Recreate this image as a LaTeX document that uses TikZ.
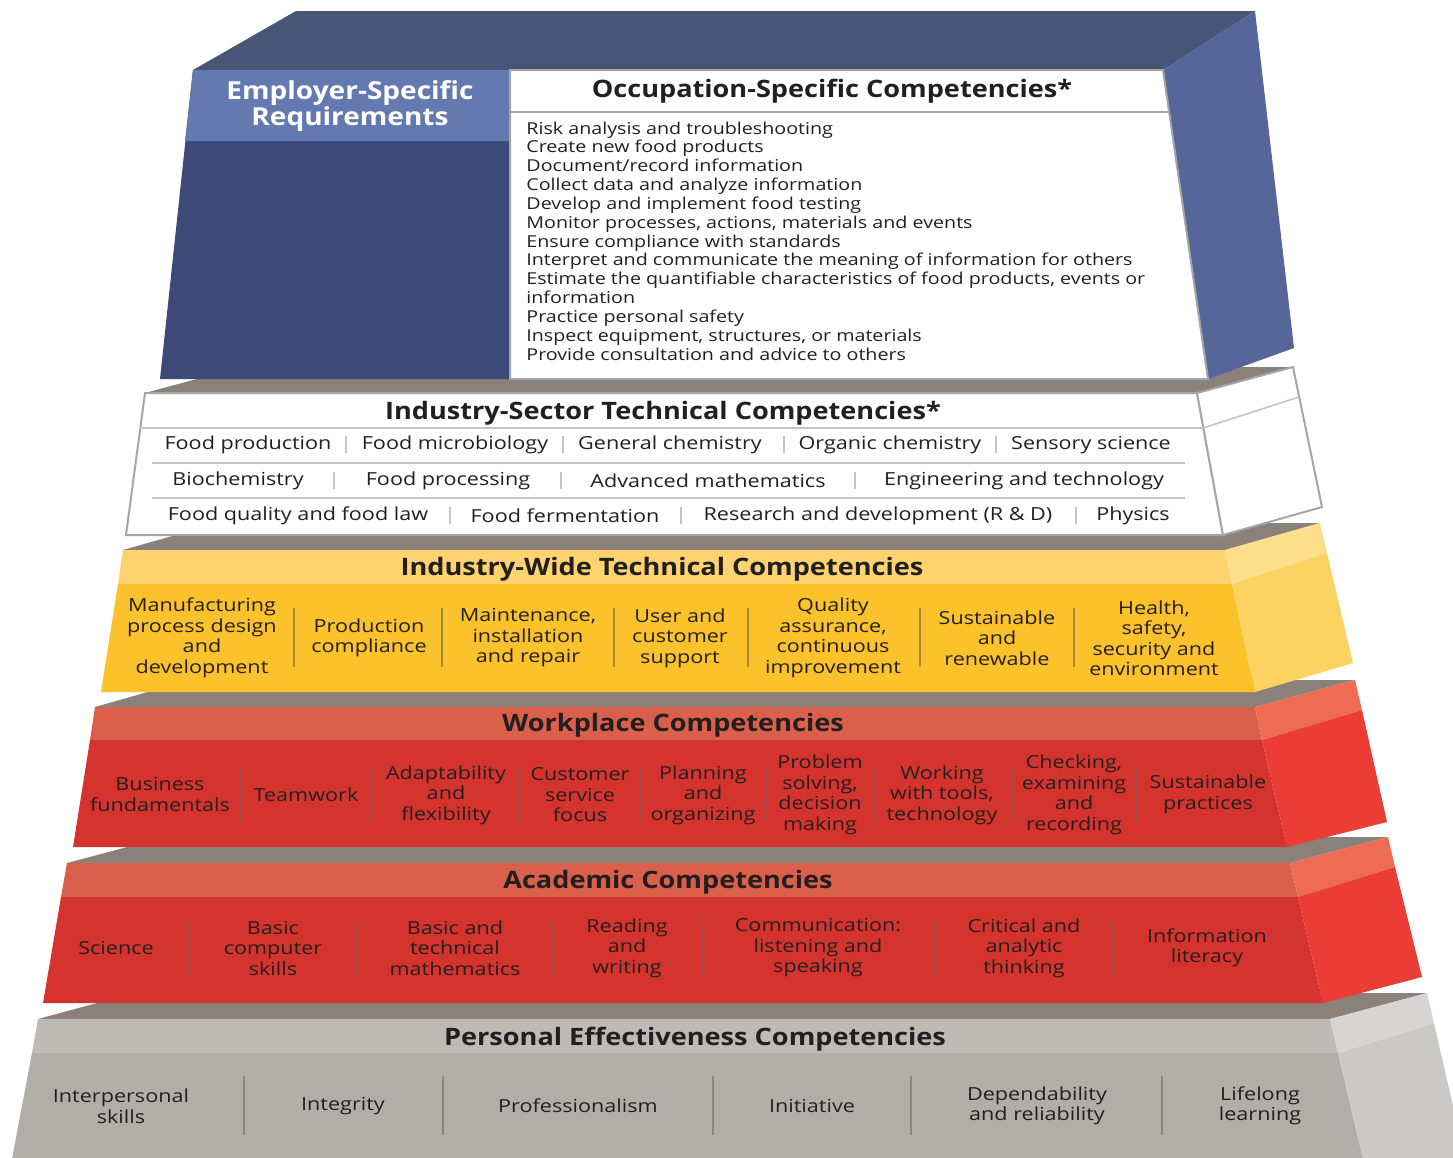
\documentclass[tikz,border=0pt]{standalone}
\usepackage{fontspec}
\setmainfont{Open Sans}
\newfontfamily\itemfont{Open Sans}[FakeStretch=1.2]
\newfontfamily\headfont{Open Sans}[FakeStretch=1.13]
\definecolor{bluetop}{HTML}{475677}
\definecolor{blueside}{HTML}{56659A}
\definecolor{bluefront}{HTML}{3D4A78}
\definecolor{emp}{HTML}{6379B0}
\definecolor{shelf}{HTML}{8B817B}
\definecolor{wborder}{HTML}{A6A6A6}
\definecolor{wline}{HTML}{C4C4C4}
\definecolor{ylband}{HTML}{FCD36F}
\definecolor{ylmain}{HTML}{FCC22B}
\definecolor{ylsideband}{HTML}{FDDE8A}
\definecolor{ylside}{HTML}{FCD363}
\definecolor{ysep}{HTML}{A88A34}
\definecolor{rdband}{HTML}{DB604C}
\definecolor{rdmain}{HTML}{D5332E}
\definecolor{rdsideband}{HTML}{EE6B54}
\definecolor{rdside}{HTML}{EB3C35}
\definecolor{rsep}{HTML}{A24A43}
\definecolor{gyband}{HTML}{BEBAB6}
\definecolor{gymain}{HTML}{B1ADA8}
\definecolor{gysideband}{HTML}{D6D5D3}
\definecolor{gyside}{HTML}{CAC9C7}
\definecolor{gsep}{HTML}{8A8682}
\definecolor{txt}{HTML}{231F20}
\tikzset{
  it/.style={font=\itemfont\fontsize{9}{10.25}\selectfont, text=txt, align=center, inner sep=0pt},
  occ/.style={font=\itemfont\fontsize{8.2}{9.4}\selectfont, text=txt, inner sep=0pt},
  hd/.style={font=\headfont\bfseries\fontsize{12}{14}\selectfont, text=txt, inner sep=0pt},
  sepline/.style={line width=1pt},
}
\begin{document}
\begin{tikzpicture}[x=0.5pt,y=-0.5pt]
\useasboundingbox (0,0) rectangle (1453,1158);
\clip (0,0) rectangle (1453,1158);
% ---------- Layer 6: Personal effectiveness
\fill[shelf] (38,1019)--(1330,1019)--(1427,993)--(134,993)--cycle;
\fill[gymain] (32,1053)--(1338,1053)--(1368,1180)--(8,1180)--cycle;
\fill[gyband] (38,1019)--(1330,1019)--(1338,1053)--(32,1053)--cycle;
\fill[gyside] (1338,1053)--(1434,1023)--(1470,1180)--(1368,1180)--cycle;
\fill[gysideband] (1330,1019)--(1427,993)--(1434,1023)--(1338,1053)--cycle;
% ---------- Layer 5: Academic
\fill[shelf] (67,863)--(1290,863)--(1388,837)--(165,837)--cycle;
\fill[rdband] (67,863)--(1290,863)--(1298,897)--(61,897)--cycle;
\fill[rdmain] (61,897)--(1298,897)--(1323,1003)--(43,1003)--cycle;
\fill[rdsideband] (1290,863)--(1388,837)--(1395,867)--(1298,897)--cycle;
\fill[rdside] (1298,897)--(1395,867)--(1422,977)--(1323,1003)--cycle;
% ---------- Layer 4: Workplace
\fill[shelf] (95,707)--(1255,707)--(1355,680)--(190,680)--cycle;
\fill[rdband] (95,707)--(1255,707)--(1262,740)--(90,740)--cycle;
\fill[rdmain] (90,740)--(1262,740)--(1287,847)--(73,847)--cycle;
\fill[rdsideband] (1255,707)--(1355,680)--(1362,710)--(1262,740)--cycle;
\fill[rdside] (1262,740)--(1362,710)--(1387,822)--(1287,847)--cycle;
% ---------- Layer 3: Industry-wide
\fill[shelf] (123,550)--(1225,550)--(1320,523)--(218,523)--cycle;
\fill[ylband] (123,550)--(1225,550)--(1232,584)--(118,584)--cycle;
\fill[ylmain] (118,584)--(1232,584)--(1255,692)--(101,692)--cycle;
\fill[ylsideband] (1225,550)--(1320,523)--(1327,553)--(1232,584)--cycle;
\fill[ylside] (1232,584)--(1327,553)--(1353,663)--(1255,692)--cycle;
% ---------- Layer 2: Industry-sector
\fill[shelf] (145,393)--(1197,393)--(1293,367)--(241,367)--cycle;
\filldraw[fill=white, draw=wborder, line width=1pt] (145,393)--(1197,393)--(1223,535)--(126,535)--cycle;
\filldraw[fill=white, draw=wborder, line width=1pt] (1197,393)--(1293,367)--(1322,507)--(1223,535)--cycle;
\draw[wline, line width=0.8pt] (140,428)--(1203,428)--(1299,397);
\draw[wline, line width=0.8pt] (152,463)--(1185,463);
\draw[wline, line width=0.8pt] (152,498)--(1185,498);
% ---------- Layer 1: Occupation / employer
\fill[bluetop] (296,11)--(1255,11)--(1163,70)--(193,70)--cycle;
\fill[blueside] (1163,70)--(1255,11)--(1294,348)--(1208,379)--cycle;
\fill[bluefront] (193,70)--(510,70)--(510,379)--(160,379)--cycle;
\fill[emp] (193,70)--(510,70)--(510,141)--(185,141)--cycle;
\filldraw[fill=white, draw=wborder, line width=1pt] (510,70)--(1163,70)--(1208,379)--(510,379)--cycle;
\draw[wborder, line width=1pt] (510,112)--(1169,112);

% ---------- Texts layer 1
\node[hd, text=white, align=center, font=\headfont\bfseries\fontsize{12.4}{11.5}\selectfont] (emptxt) at (350,106) {Employer-Specific\\Requirements};
\node[hd] (occhead) at (832,91) {Occupation-Specific Competencies*};
\foreach \t [count=\i] in {Risk analysis and troubleshooting,Create new food products,Document/record information,Collect data and analyze information,Develop and implement food testing,{Monitor processes, actions, materials and events},Ensure compliance with standards,Interpret and communicate the meaning of information for others,{Estimate the quantifiable characteristics of food products, events or},information,Practice personal safety,{Inspect equipment, structures, or materials},Provide consultation and advice to others}
  \node[occ, anchor=base west] (occ\i) at (526,{134+18.85*(\i-1)}) {\t};

% ---------- Texts layer 2
\node[hd] (sechead) at (663,413) {Industry-Sector Technical Competencies*};
\node[it] (s11) at (248,445) {Food production};
\node[it] (s12) at (455,445) {Food microbiology};
\node[it] (s13) at (670,445) {General chemistry};
\node[it] (s14) at (890,445) {Organic chemistry};
\node[it] (s15) at (1091,445) {Sensory science};
\node[it] (s21) at (238,481) {Biochemistry};
\node[it] (s22) at (448,481) {Food processing};
\node[it] (s23) at (708,481) {Advanced mathematics};
\node[it] (s24) at (1024,481) {Engineering and technology};
\node[it] (s31) at (298,516) {Food quality and food law};
\node[it] (s32) at (565,516) {Food fermentation};
\node[it] (s33) at (878,516) {Research and development (R \& D)};
\node[it] (s34) at (1133,516) {Physics};
\foreach \x in {346,563,784,996} \draw[wline, line width=1pt] (\x,436)--(\x,453);
\foreach \x in {334,561,855} \draw[wline, line width=1pt] (\x,472)--(\x,489);
\foreach \x in {450,681,1076} \draw[wline, line width=1pt] (\x,507)--(\x,524);

% ---------- Texts layer 3
\node[hd] (widehead) at (662,569) {Industry-Wide Technical Competencies};
\node[it] (w1) at (202,638) {Manufacturing\\process design\\and\\development};
\node[it] (w2) at (369,638) {Production\\compliance};
\node[it] (w3) at (528,638) {Maintenance,\\installation\\and repair};
\node[it] (w4) at (680,638) {User and\\customer\\support};
\node[it] (w5) at (833,638) {Quality\\assurance,\\continuous\\improvement};
\node[it] (w6) at (997,638) {Sustainable\\and\\renewable};
\node[it] (w7) at (1154,638) {Health,\\safety,\\security and\\environment};
\foreach \x in {294,442,614,748,920,1074} \draw[ysep, sepline] (\x,608)--(\x,667);

% ---------- Texts layer 4
\node[hd] (workhead) at (673,725) {Workplace Competencies};
\node[it] (k1) at (160,794.5) {Business\\fundamentals};
\node[it] (k2) at (306,795) {Teamwork};
\node[it] (k3) at (446,795) {Adaptability\\and\\flexibility};
\node[it] (k4) at (580,795) {Customer\\service\\focus};
\node[it] (k5) at (703,795) {Planning\\and\\organizing};
\node[it] (k6) at (820,795) {Problem\\solving,\\decision\\making};
\node[it] (k7) at (942,795) {Working\\with tools,\\technology};
\node[it] (k8) at (1074,795) {Checking,\\examining\\and\\recording};
\node[it] (k9) at (1208,794.5) {Sustainable\\practices};
\foreach \x in {241,371,519,641,766,875,1012,1137} \draw[rsep, sepline] (\x,765)--(\x,823);

% ---------- Texts layer 5
\node[hd] (acadhead) at (668,882) {Academic Competencies};
\node[it] (a1) at (116,948) {Science};
\node[it] (a2) at (273,948) {Basic\\computer\\skills};
\node[it] (a3) at (455,948) {Basic and\\technical\\mathematics};
\node[it] (a4) at (627,948) {Reading\\and\\writing};
\node[it] (a5) at (818,948) {Communication:\\listening and\\speaking};
\node[it] (a6) at (1024,948) {Critical and\\analytic\\thinking};
\node[it] (a7) at (1207,948) {Information\\literacy};
\foreach \x in {189,357,552,702,935,1113} \draw[rsep, sepline] (\x,918)--(\x,977);

% ---------- Texts layer 6
\node[hd] (perhead) at (695,1039) {Personal Effectiveness Competencies};
\node[it] (p1) at (121,1106) {Interpersonal\\skills};
\node[it] (p2) at (343,1106) {Integrity};
\node[it] (p3) at (578,1106) {Professionalism};
\node[it] (p4) at (812,1106) {Initiative};
\node[it] (p5) at (1037,1106) {Dependability\\and reliability};
\node[it] (p6) at (1260,1106) {Lifelong\\learning};
\foreach \x in {244,443,713,911,1162} \draw[gsep, sepline] (\x,1076)--(\x,1135);
\end{tikzpicture}
\end{document}
